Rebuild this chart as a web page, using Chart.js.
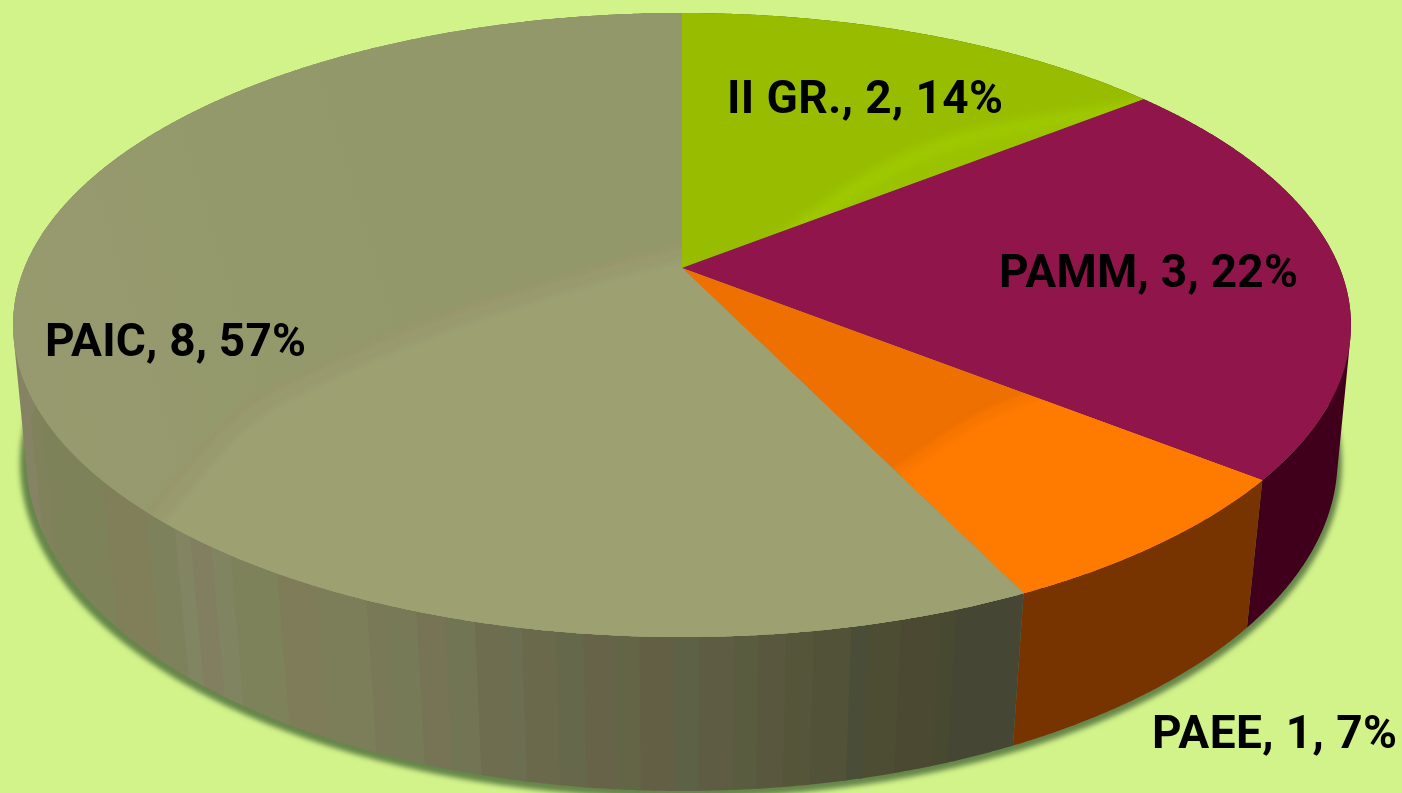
<!DOCTYPE html>
<html>
<head>
<meta charset="utf-8">
<script src="https://cdn.jsdelivr.net/npm/chart.js@4"></script>
<style>
html,body{margin:0;padding:0;background:#d2f28a;overflow:hidden}
canvas{display:block}
</style>
</head>
<body>
<canvas id="c" width="1402" height="793"></canvas>
<script>
const categories = ['II GR.', 'PAMM', 'PAEE', 'PAIC'];
const values = [2, 3, 1, 8];
const percents = [14, 22, 7, 57];
const topColors = ['#98bd00', '#8f154b', '#ff7b00', '#939869'];
const wallColors = ['#4d6000', '#40001c', '#773400', null];

// Perspective of the disc: top face and bottom rim
const TOP = {x: 682, y: 268, a: 657.7, b: 301.6, k: 0.1827};
const BOT = {x: 682, y: 403, a: 646, b: 322, k: 0.17};
function proj(p, ang, s) {
  s = s || 1;
  const u = Math.cos(ang) * s, v = Math.sin(ang) * s, w = 1 - p.k * v;
  return [p.x + p.a * u / w, p.y + p.b * v / w];
}
const STEP = Math.PI / 720;

// Banding of the PAIC side wall: right edge x on the top rim, colour
const wallBands = [
  [28,'#858364'],[42,'#7f825b'],[104,'#7e8259'],[146,'#807f5a'],[176,'#7e825c'],[192,'#818562'],
  [212,'#817f60'],[232,'#808461'],[278,'#7e825b'],[318,'#7e7c59'],[368,'#7b7e59'],[388,'#7a7957'],
  [418,'#777a56'],[448,'#767455'],[478,'#717553'],[510,'#6f6d4f'],[524,'#6b6e50'],[556,'#6b694b'],
  [586,'#65684a'],[616,'#666348'],[642,'#626647'],[676,'#635f45'],[702,'#5d6145'],[736,'#5e5c42'],
  [762,'#595c3f'],[788,'#59583e'],[816,'#55553a'],[852,'#525238'],[870,'#4a4e39'],[902,'#4d4d33'],
  [942,'#4b4932'],[958,'#474a31'],[1030,'#464634']
];
function bandColor(x) {
  for (const b of wallBands) if (x <= b[0]) return b[1];
  return wallBands[wallBands.length - 1][1];
}

function traceSlice(ctx, start, end) {
  ctx.beginPath();
  ctx.moveTo(TOP.x, TOP.y);
  for (let a = start; a < end; a += STEP) { const p = proj(TOP, a); ctx.lineTo(p[0], p[1]); }
  const e = proj(TOP, end); ctx.lineTo(e[0], e[1]);
  ctx.closePath();
}
function traceRim(ctx, p, s) {
  ctx.beginPath();
  for (let a = 0; a < Math.PI * 2; a += STEP) { const q = proj(p, a, s); ctx.lineTo(q[0], q[1]); }
  ctx.closePath();
}
// One path of consistently wound quads, so the run has no inner seams
function wallRun(ctx, a, b, color) {
  ctx.fillStyle = color;
  ctx.beginPath();
  for (let t = a; t < b; t += STEP) {
    const t2 = Math.min(t + STEP, b);
    let q = [proj(TOP, t), proj(TOP, t2), proj(BOT, t2), proj(BOT, t)];
    let area = 0;
    for (let i = 0; i < 4; i++) {
      const m = q[i], n = q[(i + 1) % 4];
      area += m[0] * n[1] - n[0] * m[1];
    }
    if (area < 0) q = q.reverse();
    ctx.moveTo(q[0][0], q[0][1]);
    ctx.lineTo(q[1][0], q[1][1]);
    ctx.lineTo(q[2][0], q[2][1]);
    ctx.lineTo(q[3][0], q[3][1]);
    ctx.closePath();
  }
  ctx.fill();
}
function curve(ctx, pts, dx, dy) {
  ctx.moveTo(pts[0][0] + dx, pts[0][1] + dy);
  for (let i = 1; i < pts.length - 1; i++) {
    const mx = (pts[i][0] + pts[i + 1][0]) / 2, my = (pts[i][1] + pts[i + 1][1]) / 2;
    ctx.quadraticCurveTo(pts[i][0] + dx, pts[i][1] + dy, mx + dx, my + dy);
  }
  const l = pts[pts.length - 1];
  ctx.lineTo(l[0] + dx, l[1] + dy);
}
function shadeBelow(ctx, pts, dx, dy, color, blur) {
  ctx.save();
  ctx.filter = 'blur(' + blur + 'px)';
  ctx.fillStyle = color;
  ctx.beginPath();
  curve(ctx, pts, dx, dy);
  const l = pts[pts.length - 1];
  ctx.lineTo(1500, l[1] + dy);
  ctx.lineTo(1500, 900);
  ctx.lineTo(pts[0][0] - 100, 900);
  ctx.closePath();
  ctx.fill();
  ctx.restore();
}
const paicCurve = [[100,570],[150,507],[233,407],[300,372],[400,327],[540,280],[680,242],[780,220]];
const greenCurve = [[770,240],[807,213],[867,170],[947,133],[1047,113],[1150,98]];
const orangeCurve = [[860,490],[893,470],[963,420],[1023,393],[1090,375]];

const labelSpots = [
  {x: 727, y: 113, w: 276}, {x: 999, y: 287, w: 299}, {x: 1152, y: 748, w: 245}, {x: 45, y: 356, w: 261}
];

const disc3d = {
  id: 'disc3d',
  beforeDatasetDraw(chart) {
    const ctx = chart.ctx;
    const arcs = chart.getDatasetMeta(0).data;
    ctx.save();

    // soft ground shadow
    ctx.save();
    ctx.filter = 'blur(2.5px)';
    ctx.fillStyle = '#66864a';
    ctx.translate(-1, 3);
    traceRim(ctx, BOT, 1.008);
    ctx.fill();
    ctx.beginPath();
    ctx.restore();

    // side walls, one path per colour run
    arcs.forEach((arc, i) => {
      const s = arc.startAngle, e = arc.endAngle;
      if (wallColors[i]) { wallRun(ctx, s, e, wallColors[i]); return; }
      let runStart = s, col = bandColor(proj(TOP, s)[0]);
      for (let a = s; a < e; a += STEP) {
        const c = bandColor(proj(TOP, a)[0]);
        if (c !== col) {
          wallRun(ctx, runStart, a + STEP, col);
          runStart = a; col = c;
        }
      }
      wallRun(ctx, runStart, e, col);
    });

    // top faces
    arcs.forEach((arc, i) => {
      ctx.save();
      traceSlice(ctx, arc.startAngle, arc.endAngle);
      ctx.fillStyle = topColors[i];
      ctx.fill();
      ctx.clip();
      if (i === 0) {
        shadeBelow(ctx, greenCurve, 0, 0, '#9ec800', 4);
        shadeBelow(ctx, greenCurve, 8, 14, '#9ac200', 3);
      } else if (i === 2) {
        ctx.fillStyle = '#ee7000';
        ctx.fill();
        shadeBelow(ctx, orangeCurve, 0, 0, '#f87600', 2);
        shadeBelow(ctx, orangeCurve, 5, 9, '#ff7b00', 3);
      } else if (i === 3) {
        const g = ctx.createLinearGradient(20, 340, 520, 190);
        g.addColorStop(0, '#969a6e');
        g.addColorStop(1, '#92986a');
        ctx.fillStyle = g;
        ctx.fill();
        shadeBelow(ctx, paicCurve, 0, 0, '#98976b', 1.5);
        shadeBelow(ctx, paicCurve, 4, 5, '#999b6f', 2);
        shadeBelow(ctx, paicCurve, 15, 15, '#9da172', 3);
      }
      ctx.restore();
    });

    // labels
    ctx.fillStyle = '#000';
    ctx.font = '700 46px Roboto';
    ctx.textAlign = 'left';
    ctx.textBaseline = 'alphabetic';
    categories.forEach((c, i) => {
      const t = c + ', ' + values[i] + ', ' + percents[i] + '%';
      ctx.letterSpacing = '0px';
      const m = ctx.measureText(t).width;
      ctx.letterSpacing = ((labelSpots[i].w - m) / (t.length - 1)).toFixed(3) + 'px';
      ctx.fillText(t, labelSpots[i].x, labelSpots[i].y);
    });
    ctx.letterSpacing = '0px';
    ctx.restore();
    return false;
  }
};

new Chart(document.getElementById('c'), {
  type: 'pie',
  data: {
    labels: categories,
    datasets: [{ data: values, backgroundColor: topColors, borderWidth: 0 }]
  },
  options: {
    responsive: false,
    animation: false,
    events: [],
    layout: { padding: 0 },
    plugins: { legend: { display: false }, tooltip: { enabled: false } }
  },
  plugins: [disc3d]
});
</script>
</body>
</html>
